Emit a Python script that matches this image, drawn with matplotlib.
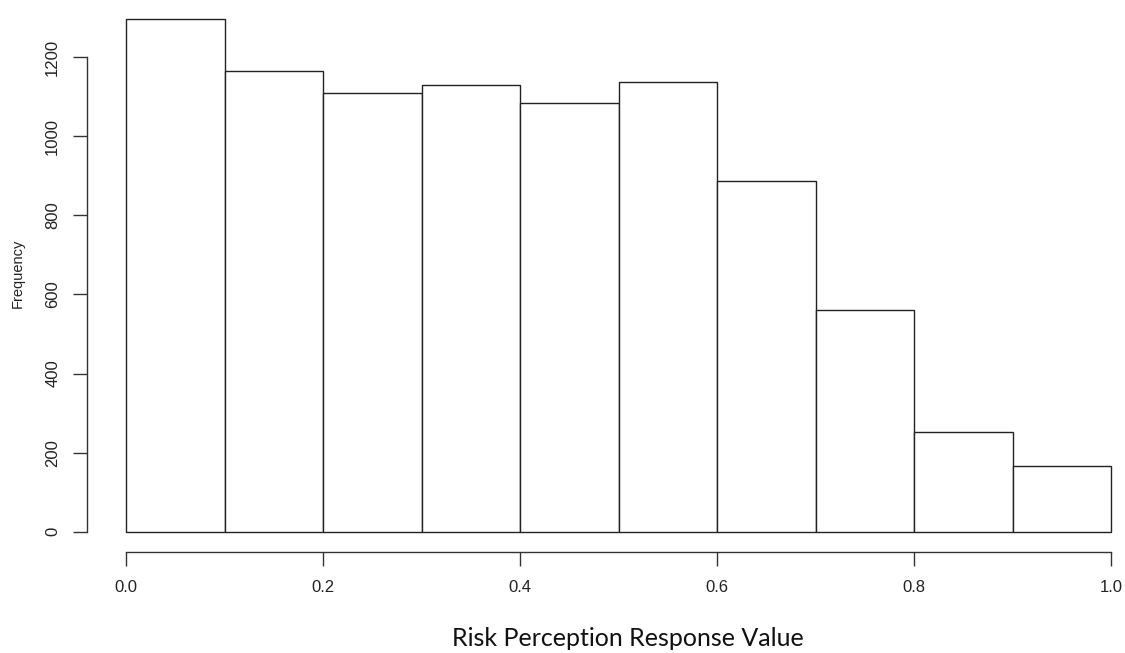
import matplotlib
matplotlib.use("Agg")
import matplotlib.pyplot as plt
import numpy as np

# histogram bins and counts
bin_edges = [0.0, 0.1, 0.2, 0.3, 0.4, 0.5, 0.6, 0.7, 0.8, 0.9, 1.0]
counts = [1297, 1165, 1110, 1130, 1084, 1138, 886, 561, 253, 167]
x_ticks = [0.0, 0.2, 0.4, 0.6, 0.8, 1.0]
x_tick_labels = ["0.0", "0.2", "0.4", "0.6", "0.8", "1.0"]
y_ticks = [0, 200, 400, 600, 800, 1000, 1200]

plt.rcParams['font.family'] = ['Liberation Sans', 'DejaVu Sans']

fig = plt.figure(figsize=(11.25, 6.53), dpi=100)
W, H = 1125, 653
# plot region in pixels (R-style base graphics layout)
left, right, bottom, top = 86.6, 1150.4, 552.2, -2.8
ax = fig.add_axes([left / W, 1 - bottom / H, (right - left) / W, (bottom - top) / H])

edges = np.array(bin_edges)
ax.bar(edges[:-1], counts, width=np.diff(edges), align='edge',
       facecolor='white', edgecolor='#222222', linewidth=1.0)

ax.set_xlim(-0.04, 1.04)
ax.set_ylim(-52, 1352)

for s in ['top', 'right']:
    ax.spines[s].set_visible(False)
ax.spines['left'].set_bounds(0, 1200)
ax.spines['bottom'].set_bounds(0, 1)
for s in ['left', 'bottom']:
    ax.spines[s].set_color('#333333')
    ax.spines[s].set_linewidth(1.0)

ax.set_xticks(x_ticks)
ax.set_xticklabels(x_tick_labels)
ax.set_yticks(y_ticks)
ax.set_yticklabels([str(v) for v in y_ticks], rotation=90, va='center')
ax.tick_params(axis='both', length=10, width=1.0, color='#333333',
               labelsize=12, labelcolor='#222222')
ax.tick_params(axis='x', pad=10)
ax.tick_params(axis='y', pad=9)

fig.text(18 / W, 1 - 273 / H, "Frequency", rotation=90, ha='center', va='center',
         fontsize=10.5, color='#222222')
fig.text(628 / W, 1 - 638 / H, "Risk Perception Response Value", ha='center', va='center',
         fontsize=18, color='#111111', family=['Lato', 'DejaVu Sans'])

fig.savefig("out.png", dpi=100)
